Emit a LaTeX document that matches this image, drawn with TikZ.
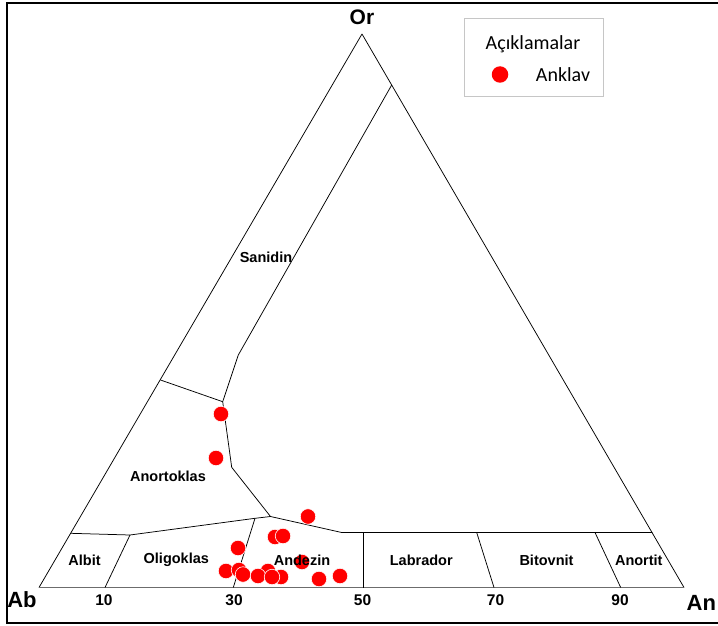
\documentclass[tikz,border=0pt]{standalone}
\usepackage{fontspec}
\setmainfont{Liberation Sans}
\newfontfamily\legendfont{Carlito}
\begin{document}
\begin{tikzpicture}[x=1pt,y=-1pt,
  thinline/.style={draw=black, line width=0.75pt, line join=round},
  baseline/.style={draw=gray!85!black, line width=1.6pt},
  framestyle/.style={draw=black, line width=2pt},
  region/.style={font=\fontsize{14.5}{16}\selectfont\bfseries, inner sep=0pt},
  ticklabel/.style={font=\fontsize{15.5}{17}\selectfont\bfseries, inner sep=0pt},
  corner/.style={font=\fontsize{22}{24}\selectfont\bfseries, inner sep=0pt},
  datapt/.style={circle, fill=red, draw=white, line width=0.6pt, minimum size=15.5pt, inner sep=0pt},
  legendbox/.style={draw=gray!45, line width=0.8pt, fill=white},
  legendtext/.style={font=\legendfont\fontsize{20}{22}\selectfont, inner sep=0pt}]
\useasboundingbox (0,0) rectangle (718,626);
\fill[white] (0,0) rectangle (718,626);
% frame
\draw[framestyle] (730,3.5) -- (6.5,3.5) -- (6.5,622.5) -- (730,622.5);
% vertices
\coordinate (Ab) at (39,587.5);
\coordinate (An) at (684,587.5);
\coordinate (Or) at (362,34);
% boundary points
\coordinate (s1) at (391.7,85);
\coordinate (s2) at (238.3,355);
\coordinate (j1) at (222.7,401.7);
\coordinate (e1) at (160.5,380);
\coordinate (j2) at (231.7,467.3);
\coordinate (j3) at (270.5,516.5);
\coordinate (k1) at (341.7,532.5);
\coordinate (e2) at (652.4,532.5);
\coordinate (d2) at (255,518.3);
\coordinate (d1) at (130,535);
\coordinate (e3) at (70.5,533.3);
\coordinate (d3) at (363.3,532.5);
\coordinate (d4) at (476.7,532.5);
\coordinate (d5) at (595,532.5);
\coordinate (b1) at (105,587.5);
\coordinate (b2) at (233.3,587.5);
\coordinate (b3) at (363.3,587.5);
\coordinate (b4) at (494,587.5);
\coordinate (b5) at (620.7,587.5);
% triangle
\draw[thinline] (Ab) -- (Or) -- (An);
\draw[baseline] (Ab) -- (An);
% fields
\draw[thinline] (s1) -- (s2) -- (j1) -- (j2) -- (j3) -- (k1) -- (e2);
\draw[thinline] (e1) -- (j1);
\draw[thinline] (j3) -- (d2) -- (d1) -- (e3);
\draw[thinline] (d1) -- (b1);
\draw[thinline] (d2) -- (b2);
\draw[thinline] (d3) -- (b3);
\draw[thinline] (d4) -- (b4);
\draw[thinline] (d5) -- (b5);
% data points
\node[datapt] (p1) at (221,414) {};
\node[datapt] (p2) at (216,458) {};
\node[datapt] (p3) at (308,516.5) {};
\node[datapt] (p4) at (275,537) {};
\node[datapt] (p5) at (283,536) {};
\node[datapt] (p6) at (238,548) {};
\node[datapt] (p7) at (226,571) {};
\node[datapt] (p8) at (239,570) {};
\node[datapt] (p9) at (243,574.5) {};
\node[datapt] (p10) at (268,571) {};
\node[datapt] (p11) at (258,576) {};
\node[datapt] (p12) at (281,577) {};
\node[datapt] (p13) at (272,577) {};
\node[datapt] (p14) at (302,562) {};
\node[datapt] (p15) at (319,579) {};
\node[datapt] (p16) at (340,576) {};
% region labels
\node[region] (lsan) at (266,257) {Sanidin};
\node[region] (lano) at (168,476.5) {Anortoklas};
\node[region] (lalb) at (84.5,560) {Albit};
\node[region] (loli) at (176.3,560) {Oligoklas};
\node[region] (land) at (302,560) {Andezin};
\node[region] (llab) at (421.3,560) {Labrador};
\node[region] (lbit) at (546.5,560) {Bitovnit};
\node[region] (lant) at (638.8,560) {Anortit};
% tick labels
\node[ticklabel] (t10) at (104,600) {10};
\node[ticklabel] (t30) at (234,600) {30};
\node[ticklabel] (t50) at (362.5,600) {50};
\node[ticklabel] (t70) at (495.5,600) {70};
\node[ticklabel] (t90) at (620,600) {90};
% corner labels
\node[corner, font=\fontsize{21}{23}\selectfont\bfseries] (lor) at (362,17.5) {Or};
\node[corner] (lab) at (22,600) {Ab};
\node[corner, anchor=west] (lan) at (686.5,603) {An};
% legend
\node[legendbox, minimum width=139pt, minimum height=78.4pt, inner sep=0pt] (leg) at (533.8,57.5) {};
\node[legendtext] (legt) at (533,44.5) {Açıklamalar};
\node[circle, fill=red, inner sep=0pt, minimum size=16.5pt] (legdot) at (500,74.5) {};
\node[legendtext] (legan) at (563,75) {Anklav};
\end{tikzpicture}
\end{document}
